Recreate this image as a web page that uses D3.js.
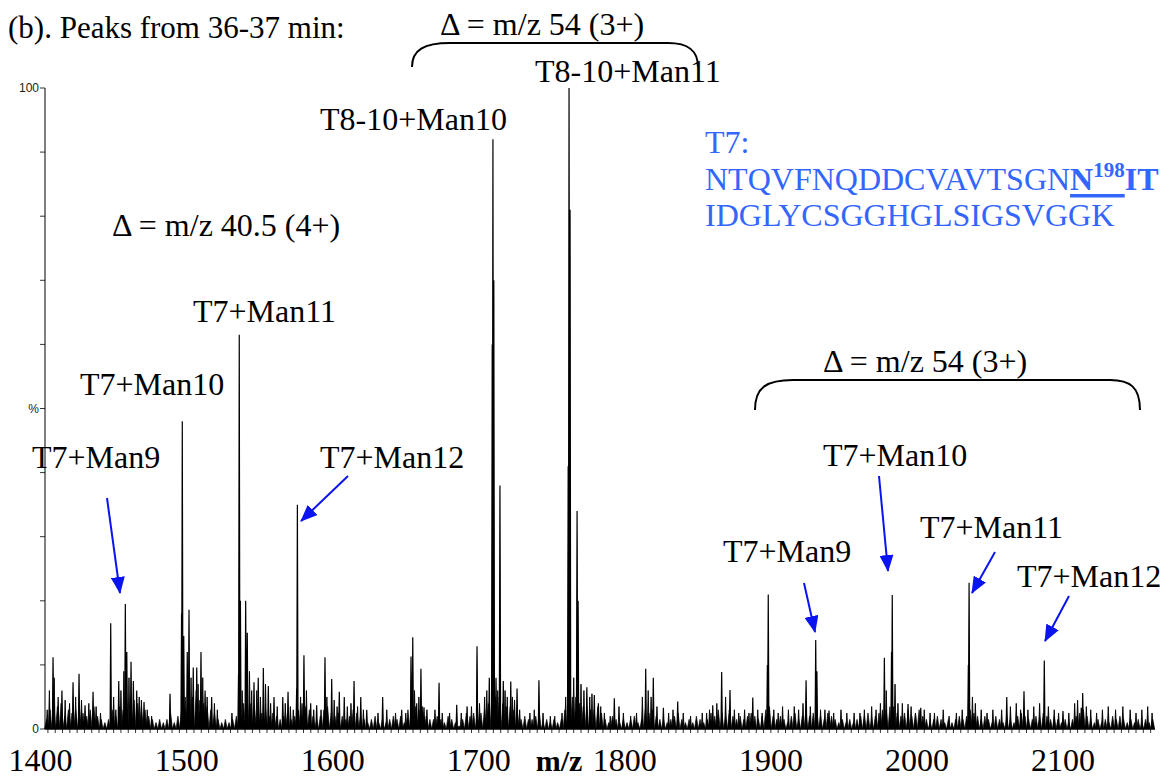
<!DOCTYPE html>
<html>
<head>
<meta charset="utf-8">
<script src="https://cdn.jsdelivr.net/npm/d3@7/dist/d3.min.js"></script>
<style>
  body { margin: 0; background: #fff; }
</style>
</head>
<body>
<div id="chart"></div>
<script>

// ---- data ----

var mzRange = [1403, 2163];
var xTickLabels = [1400, 1500, 1600, 1700, 1800, 1900, 2000, 2100];
var yTicks = [0, 10, 20, 30, 40, 50, 60, 70, 80, 90, 100];

// baseline noise, one value (%) every 2.5 m/z starting at 1404
var noiseStart = 1404, noiseStep = 2.5;
var noise = [
  1.5,3,4,3.5,4,2,3,2.5,3,3.5,2.5,2,3,3.5,2,1.5,1,1.5,3,2,
  3.5,3,4,5,4.5,4,3.5,3,2,1.5,1,1.5,1,1.5,2.5,1,2,3,5,6,
  5,6,4.5,4,3.5,3,2.5,1.5,1,1.5,1,1.5,2,3,4,4.5,4,3,3.5,2.5,
  3,2,2.5,2,1.5,2,2.5,1.5,2,3,4,3.5,3,2,1.5,2,3,3.5,2.5,2,
  2.5,2,1.5,2,3,2.5,2,1.5,1,1.5,2,1,1.5,1,1.5,2,1.5,2,1,3,
  4,3.5,3,3.5,2,1.5,1.5,2,1.5,1,2,1.5,1,0.5,1.5,2.5,2,2.5,3,2.5,
  3,4,5,5,5,4,3.5,3.5,3,2.5,1.5,2,1.5,1.5,2,2.5,1,1.5,1,1.5,
  1,1.5,3,5,5,5,4,3.5,3.5,3,3,3.5,2.5,1.5,1,2,1.5,1,1.5,1,
  1.5,2,1,1.5,3,2.5,3,2,1.5,1.5,1,1.5,2,2.5,1.5,1,1.5,1,2,1.5,
  1,1.5,2.5,2,3,2.5,2,3,2,1.5,2,1.5,2,2.5,2,1.5,2,3,3.5,2,
  1.5,2,1.5,1,2,2.5,1.5,2,3,2,2.5,3,2,1.5,2.5,2,1.5,1,1.5,1,
  1.5,1,1.5,2,2,2.5,1.5,2,2.5,3,3,3.5,3.5,2.5,2,2.5,3,2,2.5,3,
  2,1.5,1,1.5,2,1.5,1,1.5,1,1.5,2,1.5,2,3,2.5,2,1.5,2,1.5,1,
  2,1.5,1,2,1.5,1,2,2.5,2,1.5,1.5,2,2,2.5,2,1.5,2,1.5,1,1.5,
  1,1.5,2,2.5,3,2,1.5,1,1.5,1,1.5,1,2,1.5,2,1.5,1,1.5,1,1.5,
  1,1.5,1,1.5
];

// small spikes standing out of the noise [m/z, %]
var minorPeaks = [
  [1404.5,3],[1406,6],[1409.3,8],[1416.8,4.5],[1419.8,4],[1424,5],[1428,4.5],[1433,4],
  [1438,3.5],[1441,2.5],[1450,5],[1451.5,3],[1455,6],[1457,9],[1460.5,8],[1467.5,5],
  [1469,4.5],[1473,3],[1476,2],[1503,8],[1507.8,7],[1511,8],[1514,5],[1519,4],[1521,3],
  [1531,2.5],[1538,6],[1543,9],[1544.5,6],[1548,6],[1550.5,5],[1554,7],[1557.5,4],
  [1562,3.5],[1567.5,4],[1571,3.5],[1573,3],[1578,5],[1582,6],[1587,3],[1592,3],[1596,5],
  [1601,4.5],[1603,3.5],[1610,3.5],[1612.5,4],[1617,3.5],[1621,3],[1631,2.5],[1637,3],
  [1643,2.5],[1650,2.5],[1656,6],[1659,5],[1664.5,3],[1670,3],[1675,2.5],[1680,2.5],
  [1688,2.5],[1692,3.5],[1695,3.5],[1700.5,4],[1704,5],[1705.5,6],[1713,6],[1718,6],
  [1719.5,5],[1723,5],[1724.5,4.5],[1728,3],[1735,2.5],[1738,3],[1744,2.5],[1749,2],
  [1752,2],[1757,2.5],[1759.5,5],[1765,8],[1770,7],[1772,6],[1776,5],[1777.5,5.5],
  [1783.5,3.5],[1786,2.5],[1790,2],[1796,3.5],[1799,2.5],[1804,2],[1808,2.5],[1812,5],
  [1816,6],[1818,5],[1822,3.5],[1830,2.5],[1833,3],[1840,2.5],[1845,2],[1853,2.5],
  [1856,2.5],[1858,3],[1863,4],[1869,5],[1875,3],[1878,2.5],[1882,3],[1885,2.5],[1891,3],
  [1894,2.5],[1902,3],[1905,2.5],[1908,3.5],[1912,3],[1916,3.5],[1919,3],[1922,4],
  [1927,3.5],[1934,3],[1937,3],[1943,2.5],[1948,3],[1952,2.5],[1957,2.5],[1961,2.5],
  [1964,3],[1969,3.5],[1972,3],[1975,4],[1979,6],[1985,7],[1987,4],[1990,4],[1996,3.5],
  [1999,2.5],[2005,3],[2009,2.5],[2012,2.5],[2018,3],[2022,2],[2027,2.5],[2031,3],
  [2038,5],[2040,4],[2044,3],[2048,2.5],[2052,3],[2058,3],[2064,3.5],[2068,4],[2071,3],
  [2076,3],[2080,3.5],[2084,4],[2090,3.5],[2094,3],[2097,2.5],[2104,2.5],[2108,4],
  [2110,4.5],[2116,3.5],[2119,3],[2123,2.5],[2127,3],[2131,3.5],[2136,3],[2141,3.5],
  [2146,3],[2150,2.5],[2154,3],[2158,3.5],[2161,2.5]
];

// resolved peaks [m/z, relative intensity %]
var peaks = [
  [1408.5,11.2],[1412,5],[1414.6,6],[1422.2,7.3],[1426.3,8.6],[1430.4,3.7],[1435.9,5.8],
  [1448.0,16.5],[1453.5,7.5],[1458.0,19.5],[1459.0,12],[1461.9,10.5],[1463.5,7.5],[1465.8,6],
  [1470.8,4.2],[1488.6,5.5],[1496.5,18],[1497.0,48],[1498.0,14.5],[1500.4,12],[1501.6,18.6],
  [1504.5,9.6],[1506.9,9.6],[1509.8,12],[1512.6,6],[1517.1,5],
  [1535.5,8.5],[1536.0,61.5],[1536.8,20],[1540.4,20],[1541.5,15],[1546.1,7.3],[1549.0,8],
  [1552.5,9.5],[1555.9,6.7],[1559.8,5],[1565.8,5],[1569.4,5.8],[1575.3,6.3],[1575.8,35],
  [1580.3,11.5],[1584.9,4],[1589.0,3.7],[1594.7,11.2],[1599.3,7.8],[1604.5,5.8],[1607.9,5],
  [1614.6,7.5],[1619.2,5],[1623.3,3],[1634.2,5],[1647.2,3],
  [1653.6,11.3],[1654.8,14.3],[1657.5,4],[1660.4,9.4],[1662.5,3.4],[1672.8,7.2],[1684.9,3.8],
  [1698.8,12.9],[1707.2,8],[1709.2,60],[1709.7,92],[1710.3,70],[1711.8,8],[1714.5,38],
  [1716.8,7.5],[1721.9,7.4],[1726.2,6.3],[1741.2,7.6],
  [1761.2,41],[1761.8,100],[1762.5,81],[1767.3,34],[1768.0,20],[1774.0,6.5],[1779.1,5.3],
  [1781.9,4],[1792.8,4.8],[1814.3,9.4],[1819.5,8],[1826.4,3.3],[1836.2,4.3],
  [1860.2,3.7],[1866.3,8.9],[1872.0,6.1],[1887.6,4.9],[1897.6,10],[1898.2,21],
  [1924.1,7.6],[1930.7,13.9],[1931.5,9],[1939.8,2.9],[1977.7,11.1],[1982.6,12],[1983.1,20.9],
  [1993.9,3.9],[2002.6,3.3],[2035.2,10],[2035.7,22.8],[2061.5,5],[2073.3,5.9],
  [2087.2,10.7],[2100.0,2.8],[2112.5,3.3],[2113.5,5.6]
];

// peak annotations
var peakNames = ["T8-10+Man11","T8-10+Man10","T7+Man11","T7+Man10","T7+Man9","T7+Man12",
                 "T7+Man10","T7+Man11","T7+Man9","T7+Man12"];
var deltaNames = ["\u0394 = m/z 54 (3+)", "\u0394 = m/z 40.5 (4+)", "\u0394 = m/z 54 (3+)"];

// ---- layout ----

var serif = "'Liberation Serif', 'Times New Roman', Times, serif";
var sans = "'Liberation Sans', Arial, sans-serif";

var layout = {
  width: 1167, height: 778,
  left: 45, right: 1155, top: 88, bottom: 729,
  font: 32,
  // label anchors (start x, baseline y), same order as peakNames
  namePos: [[535,82],[320,130],[193,322],[80,395],[32,468],[320,468],
            [823,466],[920,538],[723,562],[1017,587]],
  deltaPos: [[440,35],[112,236],[823,372]],
  // blue arrows [x1,y1,x2,y2]
  arrows: [[107,498,120,593],[348,476,301,521],[804,583,815,632],
           [879,476,888,571],[995,552,972,593],[1069,596,1045,641]],
  // braces [xLeft, yEnd, yTop, xRight]
  braces: [[412,67,43,698],[755,410,380,1140]]
};

var svg = d3.select("#chart").append("svg")
    .attr("width", layout.width)
    .attr("height", layout.height)
    .attr("font-family", serif);

var x = d3.scaleLinear().domain(mzRange).range([layout.left, layout.right]);
var y = d3.scaleLinear().domain([0, 100]).range([layout.bottom, layout.top]);

// ---- spectrum ----

var tri = d3.line().x(function(d){ return x(d[0]); }).y(function(d){ return y(d[1]); });

function spikes(list, hw){
  return list.map(function(p){
    return tri([[p[0]-hw, 0], [p[0], p[1]], [p[0]+hw, 0]]);
  }).join("");
}

var noiseSticks = noise.map(function(v, i){ return [noiseStart + i*noiseStep, v]; });

svg.append("path")
    .attr("d", spikes(noiseSticks, 1.25))
    .attr("fill", "#000").attr("stroke", "#000").attr("stroke-width", 0.7);

svg.append("path")
    .attr("d", spikes(minorPeaks, 0.6))
    .attr("fill", "#000").attr("stroke", "#000").attr("stroke-width", 0.9);

svg.append("path")
    .attr("d", spikes(peaks, 0.45))
    .attr("fill", "#000").attr("stroke", "#000").attr("stroke-width", 1.2);

// ---- axes ----

var axisG = svg.append("g").attr("stroke", "#000");

axisG.append("line")
    .attr("x1", layout.left).attr("x2", layout.right)
    .attr("y1", layout.bottom).attr("y2", layout.bottom)
    .attr("stroke-width", 1.4);

axisG.append("line")
    .attr("x1", layout.left).attr("x2", layout.left)
    .attr("y1", layout.top).attr("y2", layout.bottom)
    .attr("stroke-width", 1);

axisG.selectAll(".xt")
    .data(d3.range(1405, mzRange[1], 5))
  .enter().append("line")
    .attr("x1", function(d){ return x(d); }).attr("x2", function(d){ return x(d); })
    .attr("y1", layout.bottom).attr("y2", layout.bottom + 4)
    .attr("stroke-width", 0.8);

axisG.selectAll(".yt")
    .data(yTicks)
  .enter().append("line")
    .attr("x1", layout.left - 5).attr("x2", layout.left)
    .attr("y1", function(d){ return y(d); }).attr("y2", function(d){ return y(d); })
    .attr("stroke-width", 0.8);

svg.selectAll(".xl")
    .data(xTickLabels)
  .enter().append("text")
    .attr("x", function(d){ return x(d); })
    .attr("y", 771)
    .attr("text-anchor", "middle")
    .attr("font-family", serif)
    .attr("font-size", layout.font)
    .text(function(d){ return d; });

svg.append("text")
    .attr("x", 559).attr("y", 771)
    .attr("text-anchor", "middle")
    .attr("font-family", serif)
    .attr("font-size", 30).attr("font-weight", "bold")
    .text("m/z");

var yLabels = [[100, "100"], [50, "%"], [0, "0"]];
svg.selectAll(".yl")
    .data(yLabels)
  .enter().append("text")
    .attr("x", layout.left - 6)
    .attr("y", function(d){ return y(d[0]) + 4; })
    .attr("text-anchor", "end")
    .attr("font-family", sans)
    .attr("font-size", 12)
    .attr("fill", "#222")
    .text(function(d){ return d[1]; });

// ---- annotations ----

svg.append("text")
    .attr("x", 8).attr("y", 38)
    .attr("font-family", serif)
    .attr("font-size", 31)
    .text("(b). Peaks from 36-37 min:");

svg.selectAll(".pn")
    .data(peakNames)
  .enter().append("text")
    .attr("x", function(d, i){ return layout.namePos[i][0]; })
    .attr("y", function(d, i){ return layout.namePos[i][1]; })
    .attr("font-family", serif)
    .attr("font-size", layout.font)
    .text(function(d){ return d; });

svg.selectAll(".dn")
    .data(deltaNames)
  .enter().append("text")
    .attr("x", function(d, i){ return layout.deltaPos[i][0]; })
    .attr("y", function(d, i){ return layout.deltaPos[i][1]; })
    .attr("font-family", serif)
    .attr("font-size", layout.font)
    .text(function(d){ return d; });

svg.selectAll(".brace")
    .data(layout.braces)
  .enter().append("path")
    .attr("d", function(b){
      var x0 = b[0], yb = b[1], yt = b[2], x1 = b[3];
      return "M" + x0 + "," + yb +
             " C" + x0 + "," + (yt + 7) + " " + (x0 + 12) + "," + yt + " " + (x0 + 38) + "," + yt +
             " L" + (x1 - 30) + "," + yt +
             " C" + (x1 - 10) + "," + yt + " " + x1 + "," + (yt + 7) + " " + x1 + "," + yb;
    })
    .attr("fill", "none").attr("stroke", "#000").attr("stroke-width", 2);

// arrows
svg.append("defs").append("marker")
    .attr("id", "head")
    .attr("markerUnits", "userSpaceOnUse")
    .attr("markerWidth", 17).attr("markerHeight", 14)
    .attr("refX", 16).attr("refY", 7)
    .attr("orient", "auto")
  .append("path")
    .attr("d", "M0,0 L17,7 L0,14 Z")
    .attr("fill", "#0a14f0");

svg.selectAll(".arrow")
    .data(layout.arrows)
  .enter().append("line")
    .attr("x1", function(a){ return a[0]; }).attr("y1", function(a){ return a[1]; })
    .attr("x2", function(a){ return a[2]; }).attr("y2", function(a){ return a[3]; })
    .attr("stroke", "#0a14f0").attr("stroke-width", 2)
    .attr("marker-end", "url(#head)");

// T7 sequence (blue)
var blue = "#3366ff";
var seq = svg.append("g").attr("fill", blue)
    .attr("font-family", serif).attr("font-size", 32);

seq.append("text").attr("x", 705).attr("y", 153).text("T7:");

var line2 = seq.append("text").attr("x", 705).attr("y", 190);
line2.append("tspan").text("NTQVFNQDDCVAVTSGN");
line2.append("tspan").attr("font-weight", "bold").text("N");
line2.append("tspan").attr("font-weight", "bold").attr("font-size", 21)
    .attr("dy", -13).text("198");
line2.append("tspan").attr("font-weight", "bold").attr("dy", 13).text("IT");

seq.append("text").attr("x", 705).attr("y", 226).text("IDGLYCSGGHGLSIGSVGGK");

// underline under N198
var node = line2.node();
var u0 = 705 + node.getSubStringLength(0, 17);
var u1 = 705 + node.getSubStringLength(0, 21);
seq.append("rect")
    .attr("x", u0).attr("y", 194)
    .attr("width", u1 - u0).attr("height", 3.5);

</script>
</body>
</html>
